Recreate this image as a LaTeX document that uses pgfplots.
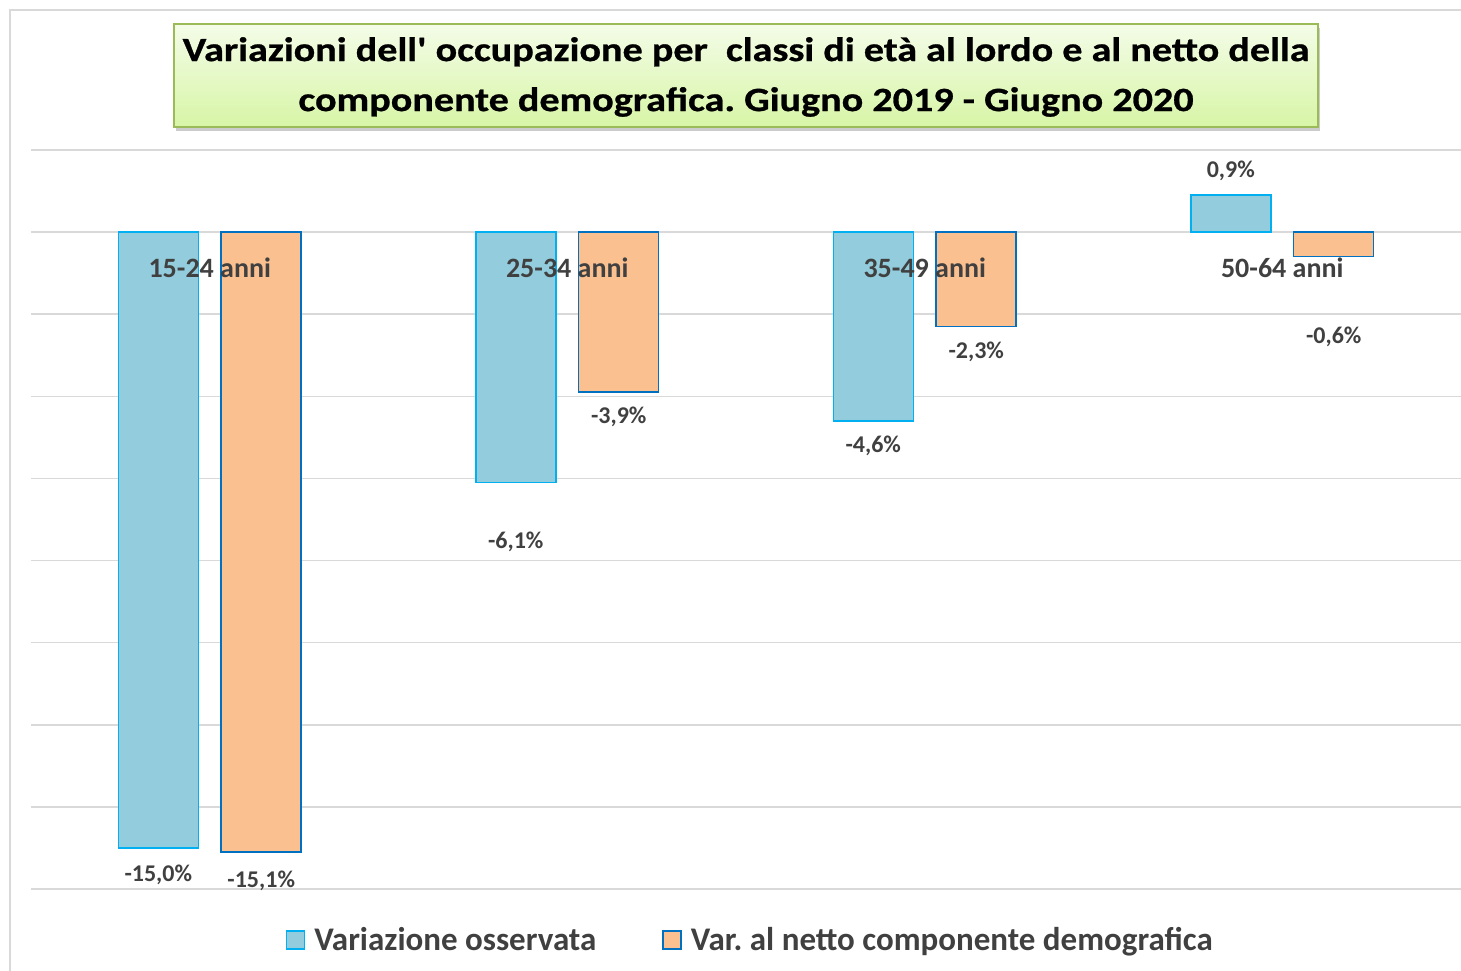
\documentclass[border=0pt]{standalone}
\usepackage{pgfplots}
\pgfplotsset{compat=1.18}
\usepackage{fontspec}
\setmainfont{Carlito}
\newfontfamily\titlefont[FakeStretch=1.18, FakeBold=0.8, Ligatures=TeXOff]{Carlito}
\usetikzlibrary{shadows}
\definecolor{bluefill}{HTML}{93CDDD}
\definecolor{blueedge}{HTML}{00B0F0}
\definecolor{orfill}{HTML}{FAC090}
\definecolor{oredge}{HTML}{0070C0}
\definecolor{txt}{HTML}{404040}
\definecolor{gridc}{HTML}{D9D9D9}
\definecolor{boxtop}{HTML}{F4FCE8}
\definecolor{boxbot}{HTML}{D7F5A6}
\definecolor{boxedge}{HTML}{9BBB59}
\frenchspacing
\begin{document}
\frenchspacing
\begin{tikzpicture}[x=1pt,y=1pt]
\useasboundingbox (0,0) rectangle (1461,-971);
% outer chart border
\draw[gridc, line width=1.5pt] (10,-971) -- (10,-10) -- (1461,-10);
% title box
\shade[top color=boxtop, bottom color=boxbot, draw=boxedge, line width=1.2pt,
  drop shadow={shadow xshift=2pt, shadow yshift=-4pt, opacity=0.4}]
  (174,-24) rectangle (1318,-127);
\node[align=center, font=\titlefont\bfseries\fontsize{34}{50}\selectfont, text=black] at (746,-77)
  {Variazioni dell' occupazione per\ \ classi di età al lordo e al netto della\\componente demografica. Giugno 2019 - Giugno 2020};
\begin{axis}[
  at={(31pt,-889pt)}, anchor=south west,
  scale only axis, width=1430pt, height=739pt,
  xmin=-0.5, xmax=3.5, ymin=-16, ymax=2,
  ytick={-16,-14,...,2}, yticklabels={}, xtick=\empty,
  ymajorgrids, grid style={gridc, line width=1.5pt},
  axis line style={draw=none}, tick style={draw=none},
  clip=false,
  /pgf/number format/assume math mode=true,
  legend style={at={(0.503,-0.069)}, anchor=center, draw=none, fill=none,
    legend columns=2, font=\bfseries\fontsize{33}{38}\selectfont, text=txt,
    /tikz/every even column/.append style={column sep=64pt}},
  legend image code/.code={\draw[#1, line width=1.5pt] (0pt,-9pt) rectangle (18pt,9pt); \path (25pt,0pt);},
]
\addplot[ybar, bar width=0.2238, bar shift=0pt, fill=bluefill, draw=blueedge, line width=1.5pt]
  table[x=x, y=y] {
x y
-0.144 -15.0
0.856 -6.1
1.856 -4.6
2.856 0.9
};
\addlegendentry{Variazione osservata}
\addplot[ybar, bar width=0.2238, bar shift=0pt, fill=orfill, draw=oredge, line width=1.5pt]
  table[x=x, y=y] {
x y
0.144 -15.1
1.144 -3.9
2.144 -2.3
3.144 -0.6
};
\addlegendentry{Var. al netto componente demografica}
% value labels
\addplot[draw=none, mark=none, forget plot, point meta=\thisrow{v},
  nodes near coords={\pgfmathprintnumber[fixed, fixed zerofill, precision=1, use comma]{\pgfplotspointmeta}\%},
  nodes near coords style={anchor=center, text=txt, font=\bfseries\fontsize{24}{28}\selectfont}]
  table[x=x, y=ly] {
x ly v
-0.144 -15.66 -15.0
0.856 -7.55 -6.1
1.856 -5.21 -4.6
2.856 1.485 0.9
0.144 -15.80 -15.1
1.144 -4.50 -3.9
2.144 -2.92 -2.3
3.144 -2.56 -0.6
};
% category labels
\addplot[draw=none, mark=none, forget plot, point meta=explicit symbolic,
  nodes near coords, nodes near coords style={anchor=center, text=txt, font=\bfseries\fontsize{28}{32}\selectfont}]
  table[x=x, y=y, meta=lab, col sep=comma] {
x,y,lab
0,-0.877,15-24 anni
1,-0.877,25-34 anni
2,-0.877,35-49 anni
3,-0.877,50-64 anni
};
\end{axis}
\end{tikzpicture}
\end{document}
